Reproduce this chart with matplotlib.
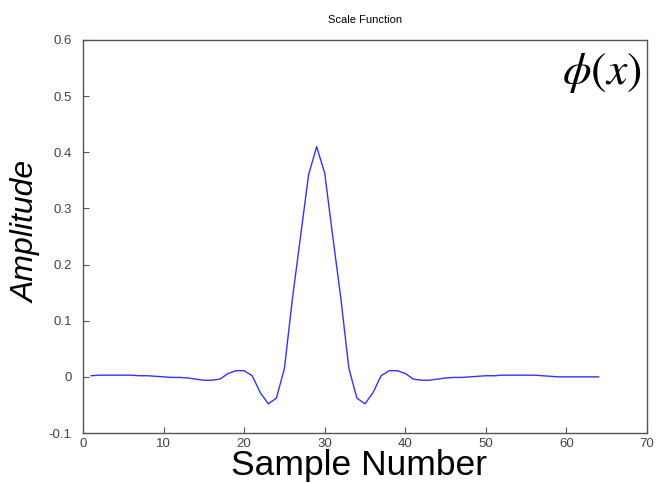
import numpy as np
import matplotlib.pyplot as plt
from matplotlib.ticker import FuncFormatter

# sample numbers and scale function values
samples = list(range(1, 65))
amplitude = [0.002, 0.003, 0.003, 0.003, 0.003, 0.003, 0.002, 0.002, 0.001, 0.000,
             -0.001, -0.001, -0.002, -0.004, -0.006, -0.006, -0.004, 0.006, 0.011, 0.011,
             0.002, -0.028, -0.048, -0.038, 0.015, 0.140, 0.250, 0.360, 0.410, 0.363,
             0.250, 0.140, 0.015, -0.038, -0.048, -0.028, 0.002, 0.011, 0.011, 0.006,
             -0.004, -0.006, -0.006, -0.004, -0.002, -0.001, -0.001, 0.000, 0.001, 0.002,
             0.002, 0.003, 0.003, 0.003, 0.003, 0.003, 0.002, 0.001, 0.000, 0.000,
             0.000, 0.000, 0.000, 0.000]
xticks = list(range(0, 71, 10))
yticks = [-0.1, 0, 0.1, 0.2, 0.3, 0.4, 0.5, 0.6]

plt.rcParams['font.family'] = ['Liberation Sans', 'DejaVu Sans']
plt.rcParams['mathtext.fontset'] = 'stix'

fig = plt.figure(figsize=(6.56, 4.83), dpi=100)
ax = fig.add_axes([0.1265, 0.1035, 0.8598, 0.8137])
ax.plot(samples, amplitude, color='#3333ff', lw=1.0)

ax.set_xlim(0, 70)
ax.set_ylim(-0.1, 0.6)
ax.set_xticks(xticks)
ax.set_yticks(yticks)
ax.yaxis.set_major_formatter(FuncFormatter(lambda v, p: '0' if abs(v) < 1e-9 else f'{v:g}'))
ax.tick_params(direction='in', length=4, width=0.8, colors='#555555',
               labelsize=9.5, labelcolor='#444444', top=False, right=False)
ax.tick_params(axis='y', pad=8)
for s in ax.spines.values():
    s.set_color('#555555')
    s.set_linewidth(1.0)

ax.set_title('Scale Function', fontsize=8, pad=12)
fig.text(0.548, 0.003, 'Sample Number', fontsize=25.5, ha='center', va='bottom')
fig.text(0.041, 0.52, 'Amplitude', fontsize=23, style='italic', rotation=90,
         ha='center', va='center')
ax.text(0.99, 0.915, r'$\phi(x)$', transform=ax.transAxes, fontsize=33,
        ha='right', va='center')

plt.savefig('out.png', dpi=100)
